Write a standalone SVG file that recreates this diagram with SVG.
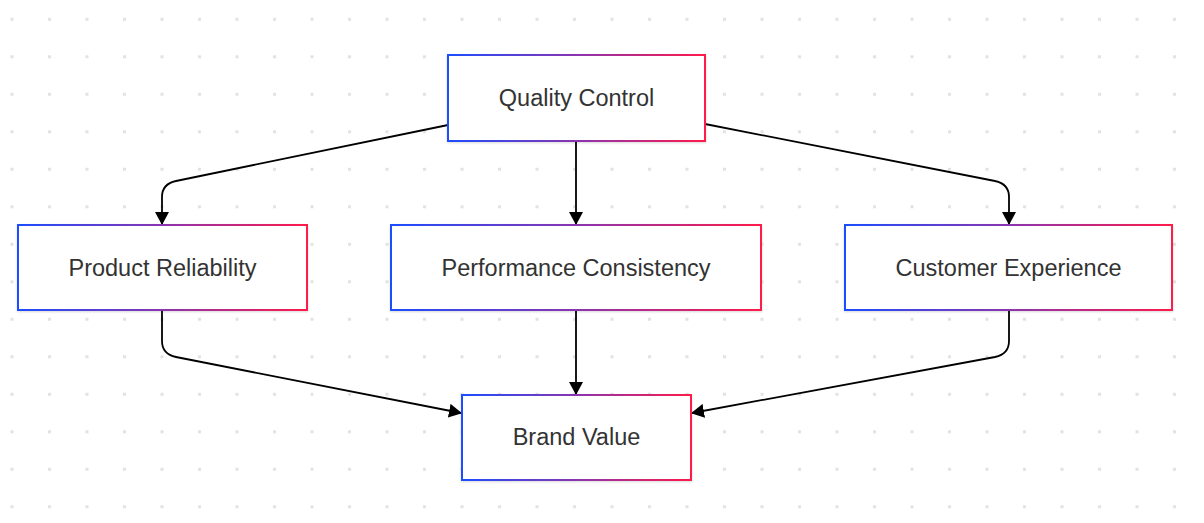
<svg xmlns="http://www.w3.org/2000/svg" width="1204" height="523" viewBox="0 0 1204 523">
<defs>
<pattern id="dots" x="10.5" y="17.8" width="37.5" height="37.5" patternUnits="userSpaceOnUse">
<rect x="0" y="0" width="3" height="3" fill="#e2e2e2"/>
</pattern>
<linearGradient id="bd" x1="0" y1="0" x2="1" y2="0">
<stop offset="0" stop-color="#1c4dff"/>
<stop offset="0.5" stop-color="#8a35b0"/>
<stop offset="1" stop-color="#ff1a4a"/>
</linearGradient>
<filter id="sh" x="-10%" y="-10%" width="120%" height="130%">
<feDropShadow dx="0" dy="1" stdDeviation="1.2" flood-color="#000" flood-opacity="0.15"/>
</filter>
<marker id="arr" viewBox="0 0 13 14" refX="12" refY="7" markerWidth="13" markerHeight="14" markerUnits="userSpaceOnUse" orient="auto">
<path d="M0,0 L13,7 L0,14 z" fill="#000"/>
</marker>
</defs>
<style>
.node rect{fill:#fff;stroke:url(#bd);stroke-width:2;filter:url(#sh)}
.node text{font-family:"Liberation Sans",Arial,sans-serif;font-size:23.5px;fill:#333;text-anchor:middle;dominant-baseline:central}
.edge{fill:none;stroke:#000;stroke-width:1.8;marker-end:url(#arr)}
</style>
<rect width="1204" height="523" fill="#fff"/>
<rect width="1204" height="523" fill="url(#dots)"/>
<g id="connectors">
<path class="edge" d="M448,125 L176,181 Q162,184 162,197 L162,224"/>
<path class="edge" d="M576,141 L576,224"/>
<path class="edge" d="M705,124 L995,181 Q1009,184 1009,197 L1009,224"/>
<path class="edge" d="M162,310 L162,341 Q162,354 176,357 L461,413"/>
<path class="edge" d="M576,310 L576,394"/>
<path class="edge" d="M1009,310 L1009,341 Q1009,354 995,357 L692,413"/>
</g>
<g id="quality-control" class="node">
<rect x="448" y="55" width="257" height="86"/>
<text x="576.5" y="98">Quality Control</text>
</g>
<g id="product-reliability" class="node">
<rect x="18" y="225" width="289" height="85"/>
<text x="162.5" y="268">Product Reliability</text>
</g>
<g id="performance-consistency" class="node">
<rect x="391" y="225" width="370" height="85"/>
<text x="576" y="268">Performance Consistency</text>
</g>
<g id="customer-experience" class="node">
<rect x="845" y="225" width="327" height="85"/>
<text x="1008.5" y="268">Customer Experience</text>
</g>
<g id="brand-value" class="node">
<rect x="462" y="395" width="229" height="85"/>
<text x="576.5" y="437">Brand Value</text>
</g>
</svg>
